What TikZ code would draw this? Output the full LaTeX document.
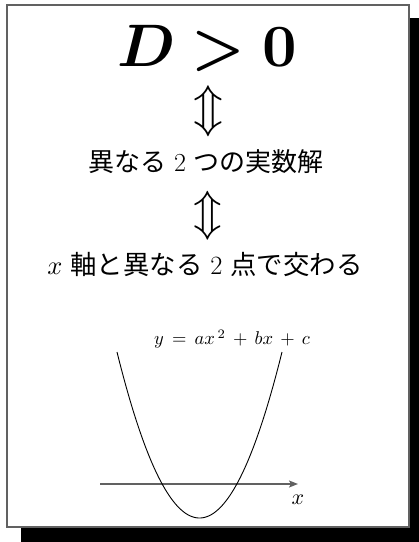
\documentclass[tikz,border=0pt]{standalone}
\usepackage{graphicx}
\usepackage{fontspec}
\usepackage{bm}
\newfontfamily\jp{Noto Sans CJK JP}
\usetikzlibrary{arrows.meta}
\definecolor{framegray}{gray}{0.38}
\newcommand\mbig[2]{\scalebox{#1}{\fontsize{10}{12}\selectfont$#2$}}
\begin{document}
\begin{tikzpicture}[x=1pt,y=-1pt,
  txt/.style={inner sep=0pt, anchor=center},
  bigtxt/.style={txt, font=\fontsize{26}{30}\selectfont}]
\useasboundingbox (0,0) rectangle (419,542);
\fill[black] (21,18) rectangle (419,542);
\draw[fill=white, draw=framegray, line width=2pt] (6.5,4.5) rectangle (409,527);
\node[txt] (cond) at (207,48) {\mbig{6}{\bm{D > 0}}};
\node[txt] (arr1) at (208,111) {\mbig{4.9}{\Updownarrow}};
\node[bigtxt] (roots) at (206,162) {{\jp 異なる} 2 {\jp つの実数解}};
\node[txt] (arr2) at (208,216) {\mbig{4.7}{\Updownarrow}};
\node[bigtxt, font=\fontsize{26.4}{30}\selectfont] (cross) at (205,265) {\mbig{2.64}{x} {\jp 軸と異なる} 2 {\jp 点で交わる}};
\node[txt] (eq) at (232,339) {\mbig{1.85}{y \,=\, ax^{\,2} \,+\, bx \,+\, c}};
\coordinate (ax0) at (100,484);
\coordinate (ax1) at (298,484);
\draw[framegray, line width=1.6pt, -{Stealth[length=9pt,width=7pt,inset=2pt]}] (ax0) -- (ax1);
\node[txt] (xl) at (298,500) {\mbig{2.2}{x}};
\draw[black, line width=0.9pt] plot[domain=117:282, samples=120, smooth] (\x, {518 - 0.02439*(\x-199.5)*(\x-199.5)});
\end{tikzpicture}
\end{document}
